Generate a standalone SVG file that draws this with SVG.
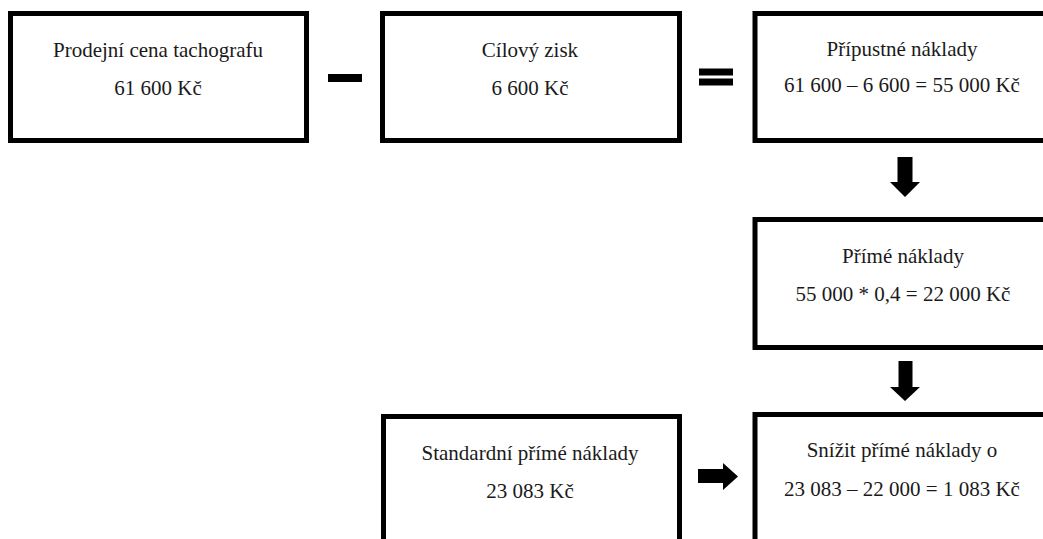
<svg xmlns="http://www.w3.org/2000/svg" width="1043" height="539" viewBox="0 0 1043 539">
<style>
.box{fill:#fff;stroke:#000;stroke-width:5}
.t{font-size:21px;fill:#1a1a1a;text-anchor:middle}
.sym{fill:#000}
</style>
<rect width="1043" height="539" fill="#fff"/>
<g font-family="Liberation Serif, Times New Roman, Tinos, DejaVu Serif, serif">
<g id="prodejni-cena">
<rect class="box" x="10.5" y="13.5" width="296" height="127"/>
<text class="t" x="158" y="57">Prodejní cena tachografu</text>
<text class="t" x="158" y="95">61 600 Kč</text>
</g>
<g id="cilovy-zisk">
<rect class="box" x="382.5" y="13.5" width="297" height="127"/>
<text class="t" x="530" y="57">Cílový zisk</text>
<text class="t" x="530" y="95">6 600 Kč</text>
</g>
<g id="pripustne-naklady">
<rect class="box" x="755" y="13.5" width="296" height="127"/>
<text class="t" x="902" y="56">Přípustné náklady</text>
<text class="t" x="902" y="92">61 600 – 6 600 = 55 000 Kč</text>
</g>
<g id="prime-naklady">
<rect class="box" x="755" y="219.5" width="296" height="128"/>
<text class="t" x="903" y="263">Přímé náklady</text>
<text class="t" x="903" y="301">55 000 * 0,4 = 22 000 Kč</text>
</g>
<g id="snizit-prime-naklady">
<rect class="box" x="755" y="414.5" width="296" height="150"/>
<text class="t" x="902" y="457">Snížit přímé náklady o</text>
<text class="t" x="902" y="496">23 083 – 22 000 = 1 083 Kč</text>
</g>
<g id="standardni-prime-naklady">
<rect class="box" x="383.5" y="416.5" width="296" height="150"/>
<text class="t" x="530" y="460">Standardní přímé náklady</text>
<text class="t" x="530" y="498">23 083 Kč</text>
</g>
</g>
<g id="connectors">
<rect class="sym" x="328" y="74" width="34" height="8"/>
<rect class="sym" x="699" y="68.5" width="34" height="7"/>
<rect class="sym" x="699" y="78.5" width="34" height="7"/>
<polygon class="sym" points="897.5,157 912.5,157 912.5,182 920,182 905,197 890,182 897.5,182"/>
<polygon class="sym" points="898.5,361 912.5,361 912.5,387 920,387 905,401 890,387 898.5,387"/>
<polygon class="sym" points="698,469 723,469 723,463 738,476.5 723,490 723,483 698,483"/>
</g>
</svg>
